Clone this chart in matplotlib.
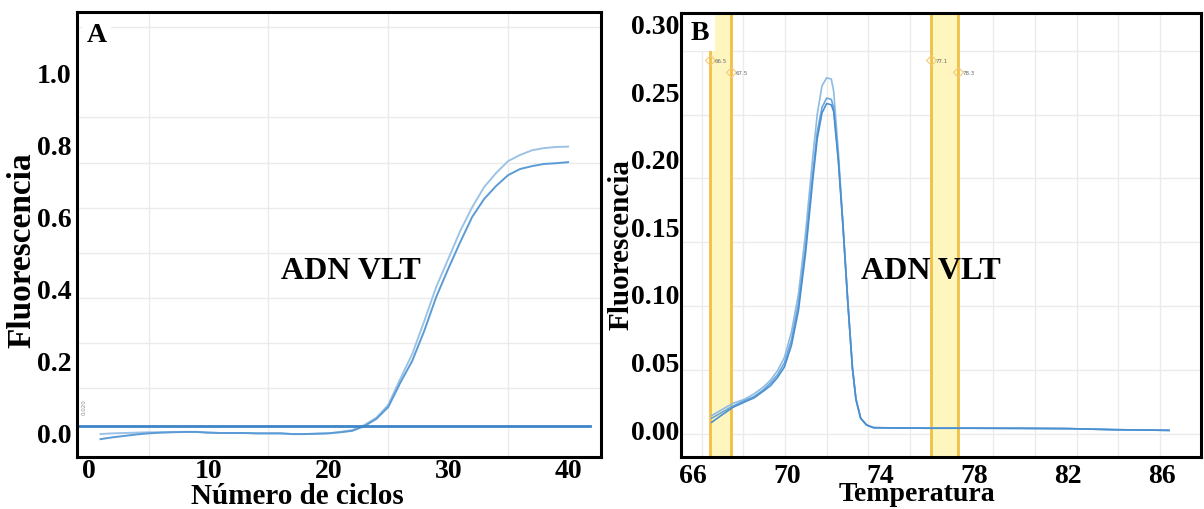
import numpy as np
import matplotlib
matplotlib.use("Agg")
import matplotlib.pyplot as plt
from matplotlib.ticker import MultipleLocator, FixedLocator

plt.rcParams["font.family"] = ["Liberation Serif", "DejaVu Serif"]
plt.rcParams["font.weight"] = "bold"
plt.rcParams["axes.labelweight"] = "bold"

# ---- panel A: amplification curves ----
cycles = list(range(1, 41))
amp_upper = [-0.003, -0.001, 0.000, 0.001, 0.002, 0.002, 0.003, 0.003, 0.003, 0.001,
             0.000, 0.000, 0.000, -0.001, -0.001, -0.001, -0.003, -0.003, -0.002, -0.001,
             0.003, 0.008, 0.022, 0.042, 0.078, 0.150, 0.219, 0.310, 0.405, 0.482,
             0.560, 0.626, 0.682, 0.721, 0.754, 0.771, 0.784, 0.790, 0.793, 0.794]
amp_lower = [-0.017, -0.012, -0.008, -0.004, -0.001, 0.001, 0.002, 0.003, 0.003, 0.001,
             0.000, 0.000, 0.000, -0.001, -0.001, -0.001, -0.003, -0.003, -0.002, -0.001,
             0.002, 0.006, 0.019, 0.039, 0.072, 0.139, 0.200, 0.283, 0.377, 0.455,
             0.529, 0.599, 0.649, 0.685, 0.715, 0.732, 0.740, 0.746, 0.748, 0.751]
threshold = 0.02
a_xticks = [0, 10, 20, 30, 40]
a_yticks = [0.0, 0.2, 0.4, 0.6, 0.8, 1.0]

# ---- panel B: melt curves ----
temp_b = [66.8, 67.2, 67.7, 68.2, 68.6, 69.0, 69.3, 69.6, 69.9, 70.2, 70.5, 70.8,
          71.1, 71.3, 71.5, 71.7, 71.9, 72.0, 72.2, 72.4, 72.6, 72.8, 72.95, 73.15,
          73.4, 73.7, 74.5, 76.0, 78.0, 80.0, 82.0, 84.0, 85.5, 86.3]
melt_1 = [0.010, 0.014, 0.019, 0.022, 0.026, 0.031, 0.036, 0.043, 0.053, 0.072, 0.100, 0.145,
          0.200, 0.233, 0.254, 0.260, 0.259, 0.250, 0.205, 0.150, 0.095, 0.045, 0.022, 0.008,
          0.003, 0.001, 0.0008, 0.0006, 0.0006, 0.0005, 0.0003, -0.0005, -0.0008, -0.0010]
melt_2 = [0.008, 0.012, 0.017, 0.021, 0.024, 0.029, 0.034, 0.040, 0.049, 0.066, 0.093, 0.135,
          0.188, 0.220, 0.238, 0.245, 0.244, 0.238, 0.200, 0.150, 0.095, 0.045, 0.022, 0.008,
          0.003, 0.001, 0.0008, 0.0006, 0.0006, 0.0005, 0.0003, -0.0005, -0.0008, -0.0010]
melt_3 = [0.005, 0.010, 0.016, 0.020, 0.023, 0.028, 0.032, 0.038, 0.046, 0.062, 0.088, 0.130,
          0.183, 0.215, 0.234, 0.241, 0.240, 0.235, 0.198, 0.149, 0.094, 0.045, 0.022, 0.008,
          0.003, 0.001, 0.0008, 0.0006, 0.0006, 0.0005, 0.0003, -0.0005, -0.0008, -0.0010]
bands = [(66.72, 67.62), (76.15, 77.30)]
band_labels = [("66.5", "67.5"), ("77.1", "78.3")]
b_xticks = [66, 70, 74, 78, 82, 86]
b_yticks = [0.00, 0.05, 0.10, 0.15, 0.20, 0.25, 0.30]

fig = plt.figure(figsize=(12.04, 5.10), dpi=100)
axA = fig.add_axes([0.0640, 0.102, 0.4352, 0.873])
axB = fig.add_axes([0.5656, 0.102, 0.4319, 0.8706])

grid_col = "#ebebeb"

# --- A ---
axA.set_xlim(-0.96, 42.75)
axA.set_ylim(-0.0665, 1.168)
axA.xaxis.set_major_locator(FixedLocator(a_xticks))
axA.yaxis.set_major_locator(FixedLocator(a_yticks))
axA.xaxis.set_minor_locator(MultipleLocator(5))
axA.yaxis.set_minor_locator(MultipleLocator(0.125))
axA.grid(which="minor", color=grid_col, lw=1.0)
axA.set_axisbelow(True)
axA.set_xticklabels([str(t) for t in a_xticks])
axA.set_yticklabels(["%.1f" % t for t in a_yticks])
axA.tick_params(which="both", length=0, labelsize=20)
axA.tick_params(axis="y", pad=4)
axA.tick_params(axis="x", pad=1)

axA.axhline(threshold, xmin=0, xmax=0.979, color="#3d85c6", lw=2.0, zorder=3)
axA.plot(cycles, amp_upper, color="#9cc3e6", lw=1.4, zorder=2)
axA.plot(cycles, amp_lower, color="#5b9bd5", lw=1.4, zorder=2)
axA.text(-0.35, 0.075, "0.020", rotation=90, fontsize=4, color="#888888",
         family="DejaVu Sans", weight="normal", ha="center", va="center")

axA.text(0.037, 0.948, "A", transform=axA.transAxes, fontsize=20, ha="center", va="center",
         bbox=dict(fc="white", ec="none", pad=3), zorder=5)
axA.text(0.523, 0.418, "ADN VLT", transform=axA.transAxes, fontsize=23,
         ha="center", va="center", zorder=5)
axA.set_xlabel("Número de ciclos", fontsize=21)
axA.set_ylabel("Fluorescencia", fontsize=24)
axA.xaxis.set_label_coords(0.42, -0.056)
axA.yaxis.set_label_coords(-0.075, 0.467)

# --- B ---
axB.set_xlim(65.49, 87.66)
axB.set_ylim(-0.0207, 0.308)
axB.xaxis.set_major_locator(FixedLocator(b_xticks))
axB.yaxis.set_major_locator(FixedLocator(b_yticks))
axB.xaxis.set_minor_locator(FixedLocator(np.arange(66.38, 87.0, 1.775)))
axB.yaxis.set_minor_locator(FixedLocator(np.arange(-0.0037, 0.30, 0.0473)))
axB.grid(which="minor", color=grid_col, lw=1.0)
axB.set_axisbelow(True)
axB.set_xticklabels([str(t) for t in b_xticks])
axB.set_yticklabels(["%.2f" % t for t in b_yticks])
axB.tick_params(which="both", length=0, labelsize=20)
axB.tick_params(axis="y", pad=1)
axB.tick_params(axis="x", pad=4)

for (lo, hi), (t_lo, t_hi) in zip(bands, band_labels):
    axB.axvspan(lo, hi, color="#fff6bf", zorder=1, lw=0)
    axB.axvline(lo, color="#f1c043", lw=2, zorder=1.5)
    axB.axvline(hi, color="#f1c043", lw=2, zorder=1.5)
    axB.plot([lo], [0.273], marker="D", ms=5, mfc="none", mec="#f3c97a", mew=0.8, zorder=3)
    axB.plot([hi], [0.264], marker="D", ms=5, mfc="none", mec="#f3c97a", mew=0.8, zorder=3)
    axB.text(lo + 0.2, 0.273, t_lo, fontsize=4, color="#666666", va="center",
             family="DejaVu Sans", weight="normal", zorder=3)
    axB.text(hi + 0.2, 0.264, t_hi, fontsize=4, color="#666666", va="center",
             family="DejaVu Sans", weight="normal", zorder=3)

axB.plot(temp_b, melt_1, color="#8dbbe3", lw=1.2, zorder=2)
axB.plot(temp_b, melt_2, color="#6aa5dc", lw=1.2, zorder=2)
axB.plot(temp_b, melt_3, color="#4a8fcf", lw=1.2, zorder=2)

axB.text(0.037, 0.955, "B", transform=axB.transAxes, fontsize=20, ha="center", va="center",
         bbox=dict(fc="white", ec="none", pad=4), zorder=5)
axB.text(0.481, 0.419, "ADN VLT", transform=axB.transAxes, fontsize=23,
         ha="center", va="center", zorder=5)
axB.set_xlabel("Temperatura", fontsize=20)
axB.set_ylabel("Fluorescencia", fontsize=21)
axB.xaxis.set_label_coords(0.454, -0.055)
axB.yaxis.set_label_coords(-0.09, 0.48)

for ax in (axA, axB):
    for s in ax.spines.values():
        s.set_linewidth(2.2)
        s.set_color("black")
        s.set_zorder(6)

fig.savefig("out.png", dpi=100)
